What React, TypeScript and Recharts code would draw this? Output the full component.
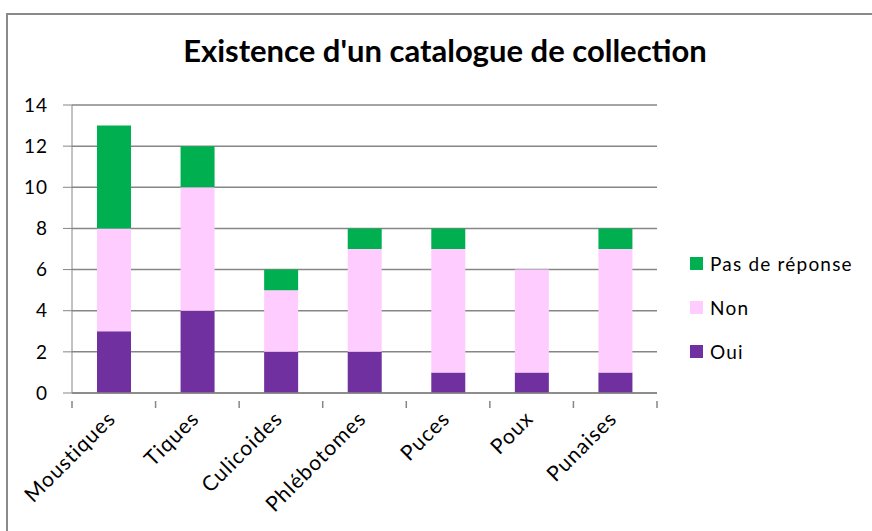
import { Bar, BarChart, CartesianGrid, XAxis, YAxis } from "recharts";

const categories = [
  "Moustiques",
  "Tiques",
  "Culicoides",
  "Phlébotomes",
  "Puces",
  "Poux",
  "Punaises",
];
const oui = [3, 4, 2, 2, 1, 1, 1];
const non = [5, 6, 3, 5, 6, 5, 6];
const pasDeReponse = [5, 2, 1, 1, 1, 0, 1];
const yTicks = [0, 2, 4, 6, 8, 10, 12, 14];

const data = categories.map((name, i) => ({
  name,
  oui: oui[i],
  non: non[i],
  pas: pasDeReponse[i],
}));

const colors = {
  oui: "#7030A0",
  non: "#FFCCFF",
  pas: "#00B050",
  grid: "#868686",
};

const legendItems = [
  { label: "Pas de réponse", color: colors.pas },
  { label: "Non", color: colors.non },
  { label: "Oui", color: colors.oui },
];

const font = "Lato, 'Open Sans', sans-serif";

const chartWidth = 872;
const chartHeight = 531;
const margin = { top: 105, right: 215, bottom: 38, left: 12 };
const yAxisWidth = 60;
const halfBand =
  (chartWidth - margin.left - margin.right - yAxisWidth) /
  categories.length /
  2;

function CategoryTick({ x, y, payload, index }: any) {
  const ax = x + 3;
  const ay = y + 19;
  return (
    <g>
      {index === 0 && (
        <line
          x1={x - halfBand}
          x2={x - halfBand}
          y1={y}
          y2={y + 7}
          stroke={colors.grid}
          strokeWidth={1.5}
        />
      )}
      <line
        x1={x + halfBand}
        x2={x + halfBand}
        y1={y}
        y2={y + 7}
        stroke={colors.grid}
        strokeWidth={1.5}
      />
      <text
        x={ax}
        y={ay}
        transform={`rotate(-45, ${ax}, ${ay})`}
        textAnchor="end"
        fontSize={21}
        letterSpacing={1}
        fontFamily={font}
        fill="#000"
      >
        {payload.value}
      </text>
    </g>
  );
}

export default function App() {
  return (
    <div
      style={{
        position: "absolute",
        left: 0,
        top: 0,
        width: chartWidth,
        height: chartHeight,
        overflow: "hidden",
        background: "#fff",
      }}
    >
      <div
        style={{
          position: "absolute",
          left: 6,
          top: 13,
          width: 920,
          height: 600,
          border: "2px solid #8a8a8a",
        }}
      />
      <div
        style={{
          position: "absolute",
          left: 0,
          width: 890,
          top: 31,
          textAlign: "center",
          fontFamily: font,
          fontWeight: 700,
          fontSize: 31,
        }}
      >
        Existence d'un catalogue de collection
      </div>
      <div style={{ position: "absolute", left: 0, top: 0 }}>
        <BarChart
          width={chartWidth}
          height={chartHeight}
          data={data}
          margin={margin}
          barSize={34}
        >
          <CartesianGrid
            vertical={false}
            stroke={colors.grid}
            strokeWidth={1.5}
          />
          <XAxis
            dataKey="name"
            height={100}
            interval={0}
            tick={<CategoryTick />}
            tickLine={false}
            axisLine={{ stroke: colors.grid, strokeWidth: 1.5 }}
          />
          <YAxis
            width={yAxisWidth}
            domain={[0, 14]}
            ticks={yTicks}
            interval={0}
            tickSize={9}
            tickMargin={15}
            tickLine={{ stroke: colors.grid }}
            axisLine={{ stroke: colors.grid }}
            tick={{
              fill: "#000",
              fontSize: 19,
              fontFamily: font,
              letterSpacing: 1,
            }}
          />
          <Bar
            dataKey="oui"
            name="Oui"
            stackId="a"
            fill={colors.oui}
            isAnimationActive={false}
          />
          <Bar
            dataKey="non"
            name="Non"
            stackId="a"
            fill={colors.non}
            isAnimationActive={false}
          />
          <Bar
            dataKey="pas"
            name="Pas de réponse"
            stackId="a"
            fill={colors.pas}
            isAnimationActive={false}
          />
        </BarChart>
      </div>
      <div
        style={{
          position: "absolute",
          left: 690,
          top: 241,
          fontFamily: font,
          fontSize: 19,
          letterSpacing: 1.2,
        }}
      >
        {legendItems.map((item) => (
          <div
            key={item.label}
            style={{ display: "flex", alignItems: "center", height: 44 }}
          >
            <span
              style={{
                width: 13,
                height: 13,
                background: item.color,
                marginRight: 7,
              }}
            />
            <span>{item.label}</span>
          </div>
        ))}
      </div>
    </div>
  );
}
